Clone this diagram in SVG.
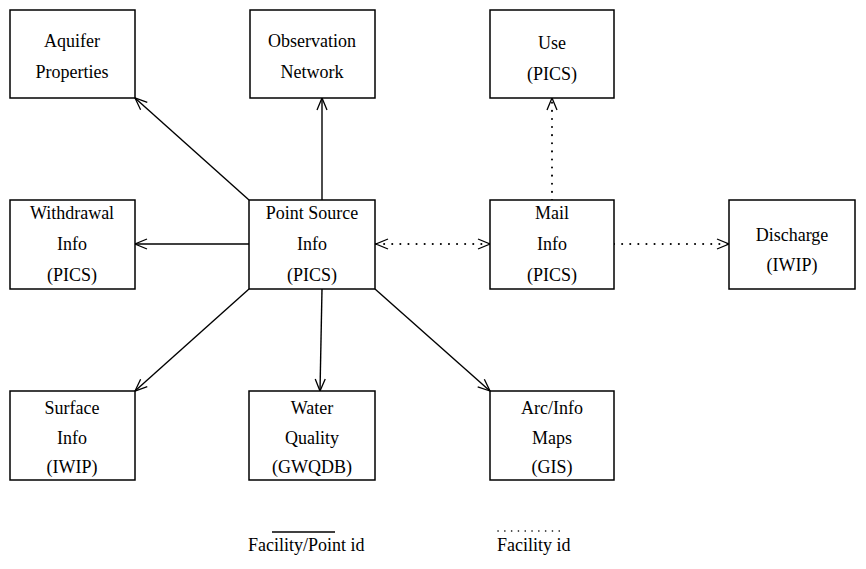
<svg xmlns="http://www.w3.org/2000/svg" width="866" height="569" viewBox="0 0 866 569">
<style>
.box{fill:#fff;stroke:#000;stroke-width:1.5}
text{font-family:"Liberation Serif","Times New Roman",serif;font-size:18px;fill:#000;text-anchor:middle}
.solid{stroke:#000;stroke-width:1.4;fill:none}
.dot{stroke:#000;stroke-width:2;fill:none;stroke-dasharray:0.1 8;stroke-linecap:round}
</style>
<defs>
<marker id="arr" markerWidth="16" markerHeight="12" refX="13" refY="6" orient="auto" markerUnits="userSpaceOnUse">
<path d="M1,1 L13,6 L1,11" fill="none" stroke="#000" stroke-width="1.3"/>
</marker>
<marker id="arrs" markerWidth="16" markerHeight="12" refX="13" refY="6" orient="auto-start-reverse" markerUnits="userSpaceOnUse">
<path d="M1,1 L13,6 L1,11" fill="none" stroke="#000" stroke-width="1.3"/>
</marker>
</defs>
<g id="connectors">
<line class="solid" x1="249" y1="200" x2="135" y2="98" marker-end="url(#arr)"/>
<line class="solid" x1="322" y1="200" x2="322" y2="98" marker-end="url(#arr)"/>
<line class="solid" x1="249" y1="244" x2="135" y2="244" marker-end="url(#arr)"/>
<line class="dot" x1="376" y1="244" x2="490" y2="244" marker-start="url(#arrs)" marker-end="url(#arrs)"/>
<line class="dot" x1="552" y1="200" x2="552" y2="98" marker-end="url(#arr)"/>
<line class="dot" x1="614" y1="244" x2="729" y2="244" marker-end="url(#arr)"/>
<line class="solid" x1="249" y1="289" x2="135" y2="391" marker-end="url(#arr)"/>
<line class="solid" x1="322" y1="289" x2="320" y2="391" marker-end="url(#arr)"/>
<line class="solid" x1="375" y1="289" x2="490" y2="391" marker-end="url(#arr)"/>
</g>
<g id="aquifer"><rect class="box" x="10" y="10" width="125" height="88"/><text x="72" y="47">Aquifer</text><text x="72" y="78">Properties</text></g>
<g id="observation"><rect class="box" x="250" y="10" width="125" height="88"/><text x="312" y="47">Observation</text><text x="312" y="78">Network</text></g>
<g id="use"><rect class="box" x="490" y="10" width="124" height="88"/><text x="552" y="49">Use</text><text x="552" y="80">(PICS)</text></g>
<g id="withdrawal"><rect class="box" x="10" y="200" width="125" height="89"/><text x="72" y="219">Withdrawal</text><text x="72" y="250">Info</text><text x="72" y="281">(PICS)</text></g>
<g id="pointsource"><rect class="box" x="249" y="200" width="126" height="89"/><text x="312" y="219">Point Source</text><text x="312" y="250">Info</text><text x="312" y="281">(PICS)</text></g>
<g id="mail"><rect class="box" x="490" y="200" width="124" height="89"/><text x="552" y="219">Mail</text><text x="552" y="250">Info</text><text x="552" y="281">(PICS)</text></g>
<g id="discharge"><rect class="box" x="729" y="200" width="126" height="89"/><text x="792" y="241">Discharge</text><text x="792" y="271">(IWIP)</text></g>
<g id="surface"><rect class="box" x="10" y="391" width="125" height="89"/><text x="72" y="414">Surface</text><text x="72" y="444">Info</text><text x="72" y="473">(IWIP)</text></g>
<g id="waterquality"><rect class="box" x="249" y="391" width="126" height="89"/><text x="312" y="414">Water</text><text x="312" y="444">Quality</text><text x="312" y="473">(GWQDB)</text></g>
<g id="arcinfo"><rect class="box" x="490" y="391" width="124" height="89"/><text x="552" y="414">Arc/Info</text><text x="552" y="444">Maps</text><text x="552" y="473">(GIS)</text></g>
<g id="legend">
<line class="solid" x1="272" y1="532" x2="335" y2="532"/>
<text x="248" y="551" style="text-anchor:start">Facility/Point id</text>
<line class="dot" x1="498" y1="531" x2="565" y2="531" style="stroke-width:1.6;stroke-dasharray:0.1 6.7"/>
<text x="497" y="551" style="text-anchor:start">Facility id</text>
</g>
</svg>
